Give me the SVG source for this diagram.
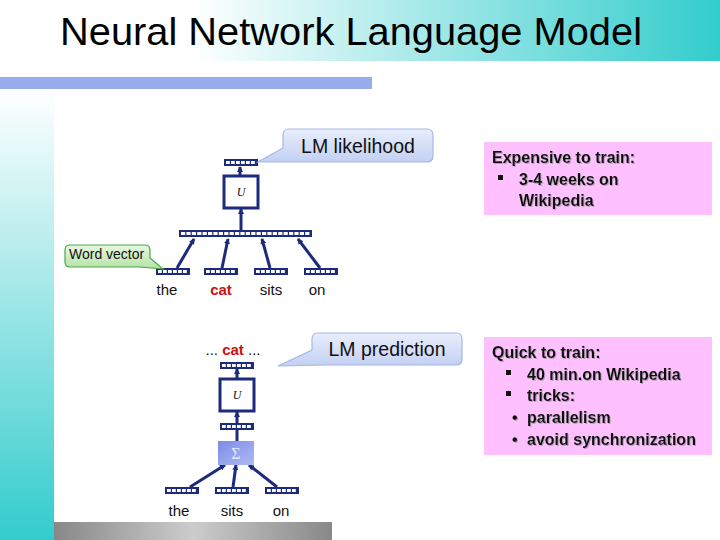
<svg xmlns="http://www.w3.org/2000/svg" xmlns:xlink="http://www.w3.org/1999/xlink" width="720" height="540" viewBox="0 0 720 540">
<style>
.nv{fill:#1c2b7c}
.cell{stroke:#fff;stroke-width:3;stroke-dasharray:3.8 1.2}
.ln{stroke:#1c2b7c;stroke-width:3;fill:none}
.ar{stroke:#1c2b7c;stroke-width:3;fill:none;marker-end:url(#ah)}
.box{fill:#fff;stroke:#1c2b7c;stroke-width:3}
.w{font-family:"Liberation Sans",Arial,sans-serif;font-size:15px;fill:#111;text-anchor:middle}
.red{fill:#cc1111;font-weight:bold}
.u{font-family:"Liberation Serif","Times New Roman",serif;font-style:italic;font-size:12px;fill:#111;text-anchor:middle}
.co{fill:url(#cog);stroke:#a6b8e6;stroke-width:1.2}
.cot{font-family:"Liberation Sans",Arial,sans-serif;font-size:19.5px;fill:#111;text-anchor:middle}
.pk{fill:#ffc0ff}
.pt{font-family:"Liberation Sans",Arial,sans-serif;font-size:16px;font-weight:bold;fill:#111;filter:url(#sh)}
</style>
<defs>
<linearGradient id="hdr" x1="0" y1="0" x2="1" y2="0">
<stop offset="0" stop-color="#fff"/><stop offset="0.27" stop-color="#fff"/><stop offset="1" stop-color="#33cccc"/>
</linearGradient>
<linearGradient id="side" x1="0" y1="0" x2="0" y2="1">
<stop offset="0" stop-color="#fff"/><stop offset="1" stop-color="#33cccc"/>
</linearGradient>
<linearGradient id="gray" x1="0" y1="0" x2="1" y2="0">
<stop offset="0" stop-color="#888"/><stop offset="0.5" stop-color="#cccccc"/><stop offset="1" stop-color="#888"/>
</linearGradient>
<linearGradient id="cog" x1="0" y1="0" x2="0" y2="1">
<stop offset="0" stop-color="#e8eefc"/><stop offset="1" stop-color="#c3d0f3"/>
</linearGradient>
<linearGradient id="grn" x1="0" y1="0" x2="0" y2="1">
<stop offset="0" stop-color="#e6f7e0"/><stop offset="1" stop-color="#b4e2a6"/>
</linearGradient>
<linearGradient id="sig" x1="0" y1="0" x2="1" y2="1">
<stop offset="0" stop-color="#7b8ce6"/><stop offset="1" stop-color="#b0baf2"/>
</linearGradient>
<marker id="ah" viewBox="0 0 6 6" refX="5" refY="3" markerWidth="6" markerHeight="6" markerUnits="userSpaceOnUse" orient="auto">
<path d="M0,0 L6,3 L0,6 z" fill="#1c2b7c"/>
</marker>
<filter id="sh" x="-5%" y="-20%" width="110%" height="140%">
<feDropShadow dx="1" dy="1" stdDeviation="0.3" flood-color="#888" flood-opacity="0.6"/>
</filter>
<g id="v6">
<rect class="nv" x="0" y="0" width="34" height="7"/>
<line class="cell" x1="2" y1="3.5" x2="32" y2="3.5"/>
</g>
</defs>

<!-- background -->
<rect x="0" y="0" width="720" height="540" fill="#fff"/>
<rect x="0" y="0" width="720" height="61" fill="url(#hdr)"/>
<rect x="0" y="89" width="54" height="451" fill="url(#side)"/>
<rect x="0" y="77" width="372" height="12" fill="#99adee"/>
<rect x="54" y="522" width="278" height="18" fill="url(#gray)"/>
<text x="60" y="45" font-family="'Liberation Sans',Arial,sans-serif" font-size="39" fill="#000" textLength="582" lengthAdjust="spacingAndGlyphs">Neural Network Language Model</text>

<!-- connectors -->
<g id="connectors">
<line class="ar" x1="240" y1="175" x2="240" y2="167"/>
<line class="ar" x1="241" y1="230" x2="241" y2="209"/>
<line class="ar" x1="177" y1="268" x2="194" y2="239"/>
<line class="ar" x1="222" y1="268" x2="228" y2="239"/>
<line class="ar" x1="270" y1="268" x2="262" y2="239"/>
<line class="ar" x1="320" y1="268" x2="298" y2="239"/>
<line class="ar" x1="237" y1="378" x2="237" y2="369"/>
<line class="ar" x1="237" y1="423" x2="237" y2="412"/>
<line class="ln" x1="237" y1="441" x2="237" y2="429"/>
<line class="ar" x1="190" y1="487" x2="225" y2="465"/>
<line class="ar" x1="233" y1="487" x2="236" y2="465"/>
<line class="ar" x1="277" y1="487" x2="249" y2="465"/>
</g>

<!-- top model -->
<g id="top-output"><use xlink:href="#v6" x="224" y="159"/></g>
<g id="top-U"><rect class="box" x="224" y="176" width="34" height="32"/><text class="u" x="241" y="196">U</text></g>
<g id="top-concat">
<rect class="nv" x="179" y="230" width="133" height="7"/>
<line class="cell" x1="181" y1="233.5" x2="310" y2="233.5" style="stroke-dasharray:4.2 1.2"/>
</g>
<g id="vec-the"><use xlink:href="#v6" x="156" y="268"/><text class="w" x="167" y="295">the</text></g>
<g id="vec-cat"><use xlink:href="#v6" x="204" y="268"/><text class="w red" x="221" y="295">cat</text></g>
<g id="vec-sits"><use xlink:href="#v6" x="254" y="268"/><text class="w" x="271" y="295">sits</text></g>
<g id="vec-on"><use xlink:href="#v6" x="304" y="268"/><text class="w" x="317" y="295">on</text></g>

<g id="callout-likelihood">
<path class="co" d="M289,129 H427 Q433,129 433,135 V156 Q433,162 427,162 H300 L258,162 L283,148 V135 Q283,129 289,129 Z"/>
<text class="cot" x="358" y="153">LM likelihood</text>
</g>
<g id="callout-wordvector">
<path d="M70,245 H145 Q150,245 150,250 V258 L163,269 L140,267 H70 Q65,267 65,262 V250 Q65,245 70,245 Z" fill="url(#grn)" stroke="#4aa84a" stroke-width="1.2"/>
<text x="69" y="259" font-family="'Liberation Sans',Arial,sans-serif" font-size="14" fill="#111">Word vector</text>
</g>

<!-- bottom model -->
<g id="bot-label"><text class="w" x="233" y="355">... <tspan class="red">cat</tspan> ...</text></g>
<g id="bot-output"><use xlink:href="#v6" x="220" y="362"/></g>
<g id="bot-U"><rect class="box" x="220" y="379" width="34" height="32"/><text class="u" x="237" y="399">U</text></g>
<g id="bot-hidden"><use xlink:href="#v6" x="220" y="423"/></g>
<g id="bot-sigma"><rect x="218" y="441" width="36" height="24" fill="url(#sig)"/><text x="236" y="459" font-family="'Liberation Serif','Times New Roman',serif" font-size="16" fill="#e4e8ff" text-anchor="middle">Σ</text></g>
<g id="bvec-the"><use xlink:href="#v6" x="165" y="487"/><text class="w" x="179" y="516">the</text></g>
<g id="bvec-sits"><use xlink:href="#v6" x="215" y="487"/><text class="w" x="232" y="516">sits</text></g>
<g id="bvec-on"><use xlink:href="#v6" x="265" y="487"/><text class="w" x="281" y="516">on</text></g>

<g id="callout-prediction">
<path class="co" d="M318,333 H456 Q462,333 462,339 V359 Q462,365 456,365 H326 L278,366 L312,350 V339 Q312,333 318,333 Z"/>
<text class="cot" x="387" y="356">LM prediction</text>
</g>

<!-- notes -->
<g id="note-expensive">
<rect class="pk" x="484" y="142" width="228" height="73"/>
<text class="pt" x="492" y="163">Expensive to train:</text>
<rect x="498" y="175" width="5" height="5" fill="#111"/>
<text class="pt" x="519" y="185">3-4 weeks on</text>
<text class="pt" x="519" y="206">Wikipedia</text>
</g>
<g id="note-quick">
<rect class="pk" x="484" y="337" width="228" height="118"/>
<text class="pt" x="492" y="358">Quick to train:</text>
<rect x="506" y="370" width="5" height="5" fill="#111"/>
<text class="pt" x="527" y="380">40 min.on Wikipedia</text>
<rect x="506" y="391" width="5" height="5" fill="#111"/>
<text class="pt" x="527" y="401">tricks:</text>
<text class="pt" x="512" y="423">•</text>
<text class="pt" x="527" y="423">parallelism</text>
<text class="pt" x="512" y="445">•</text>
<text class="pt" x="527" y="445">avoid synchronization</text>
</g>
</svg>
